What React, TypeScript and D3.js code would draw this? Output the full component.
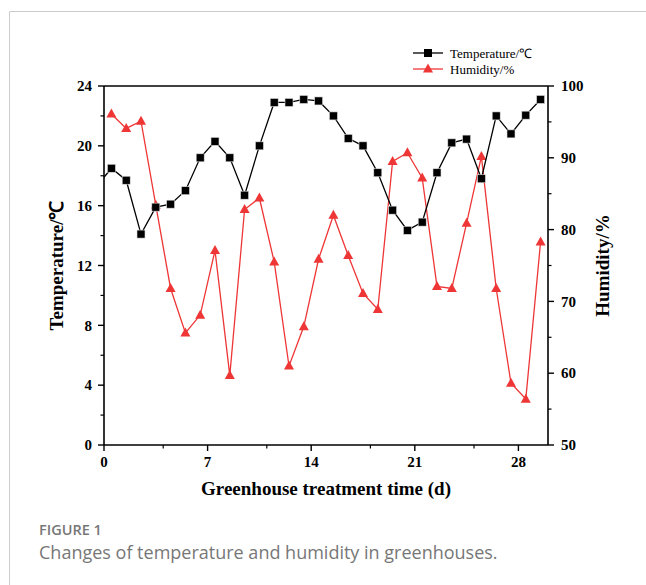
import React from 'react';
import * as d3 from 'd3';

// measurement days (markers sit at the middle of each day)
const days = [0.5, 1.5, 2.5, 3.5, 4.5, 5.5, 6.5, 7.5, 8.5, 9.5, 10.5, 11.5, 12.5, 13.5, 14.5,
  15.5, 16.5, 17.5, 18.5, 19.5, 20.5, 21.5, 22.5, 23.5, 24.5, 25.5, 26.5, 27.5, 28.5, 29.5];

const temperature = [18.5, 17.7, 14.1, 15.9, 16.1, 17.0, 19.2, 20.3, 19.2, 16.7, 20.0, 22.9, 22.9, 23.1, 23.0,
  22.0, 20.5, 20.0, 18.2, 15.7, 14.35, 14.9, 18.2, 20.2, 20.45, 17.8, 22.0, 20.8, 22.05, 23.1];

// the temperature line starts at the axis with no marker
const tempLeadDay = 0;
const tempLeadValue = 17.9;

const humidity = [96.1, 94.1, 95.1, 83.4, 71.8, 65.6, 68.1, 77.1, 59.7, 82.8, 84.4, 75.5, 61.0, 66.5, 75.9,
  82.0, 76.4, 71.1, 68.9, 89.5, 90.7, 87.2, 72.1, 71.8, 80.9, 90.2, 71.8, 58.6, 56.4, 78.3];

const xTicks = [0, 7, 14, 21, 28];
const xMinorTicks = [4, 11, 18, 25];
const leftTicks = [0, 4, 8, 12, 16, 20, 24];
const leftMinorTicks = [2, 6, 10, 14, 18, 22];
const rightTicks = [50, 60, 70, 80, 90, 100];
const rightMinorTicks = [55, 65, 75, 85, 95];

const RED = '#ee3636';
const serif = '"Liberation Serif", "Times New Roman", serif';

export default function App() {
  const left = 104, right = 548, top = 86, bottom = 445;

  const x = d3.scaleLinear().domain([0, 30]).range([left, right]);
  const yL = d3.scaleLinear().domain([0, 24]).range([bottom, top]);
  const yR = d3.scaleLinear().domain([50, 100]).range([bottom, top]);

  const tempPts: [number, number][] = [[tempLeadDay, tempLeadValue], ...days.map((d, i) => [d, temperature[i]] as [number, number])];
  const humPts: [number, number][] = days.map((d, i) => [d, humidity[i]]);

  const tempLine = d3.line<[number, number]>().x(d => x(d[0])).y(d => yL(d[1]));
  const humLine = d3.line<[number, number]>().x(d => x(d[0])).y(d => yR(d[1]));

  const sq = 8;
  const tri = (cx: number, cy: number) => {
    const w = 10, h = 9;
    return `M${cx},${cy - h * 0.6}L${cx + w / 2},${cy + h * 0.4}L${cx - w / 2},${cy + h * 0.4}Z`;
  };

  const tickFont = { fontFamily: serif, fontWeight: 'bold' as const, fontSize: 15 };

  return (
    <svg width={646} height={585} style={{ position: 'absolute', left: 0, top: 0 }}>
      <rect x={0} y={0} width={646} height={585} fill='#fff' />
      {/* page frame */}
      <line x1={9.5} y1={11.5} x2={646} y2={11.5} stroke='#cccccc' strokeWidth={1} />
      <line x1={9.5} y1={11.5} x2={9.5} y2={585} stroke='#cccccc' strokeWidth={1} />

      {/* humidity */}
      <path d={humLine(humPts) || ''} fill='none' stroke={RED} strokeWidth={1.3} />
      {humPts.map((d, i) => (
        <path key={'h' + i} d={tri(x(d[0]), yR(d[1]))} fill={RED} />
      ))}

      {/* temperature */}
      <path d={tempLine(tempPts) || ''} fill='none' stroke='#000' strokeWidth={1.3} />
      {days.map((d, i) => (
        <rect key={'t' + i} x={x(d) - sq / 2} y={yL(temperature[i]) - sq / 2} width={sq} height={sq}
          fill='#000' stroke='#ddd' strokeWidth={0.6} />
      ))}

      {/* frame */}
      <line x1={left} y1={top} x2={right} y2={top} stroke='#000' strokeWidth={1.6} />
      <line x1={left} y1={bottom} x2={right} y2={bottom} stroke='#000' strokeWidth={1.6} />
      <line x1={left} y1={top} x2={left} y2={bottom} stroke='#000' strokeWidth={1.6} />
      <line x1={right} y1={top} x2={right} y2={bottom} stroke='#000' strokeWidth={1.6} />

      {/* x axis */}
      {xTicks.map(t => (
        <g key={'x' + t}>
          <line x1={x(t)} x2={x(t)} y1={bottom} y2={bottom + 6} stroke='#000' strokeWidth={1.4} />
          <text x={x(t)} y={467} textAnchor='middle' {...tickFont}>{t}</text>
        </g>
      ))}
      {xMinorTicks.map(t => (
        <line key={'xm' + t} x1={x(t)} x2={x(t)} y1={bottom} y2={bottom + 3.5} stroke='#000' strokeWidth={1.2} />
      ))}
      <text x={(left + right) / 2} y={495} textAnchor='middle' fontFamily={serif} fontWeight='bold' fontSize={19}>
        Greenhouse treatment time (d)
      </text>

      {/* left axis */}
      {leftTicks.map(t => (
        <g key={'l' + t}>
          <line x1={left - 6} x2={left} y1={yL(t)} y2={yL(t)} stroke='#000' strokeWidth={1.4} />
          <text x={92} y={yL(t)} dy='0.35em' textAnchor='end' {...tickFont}>{t}</text>
        </g>
      ))}
      {leftMinorTicks.map(t => (
        <line key={'lm' + t} x1={left - 3.5} x2={left} y1={yL(t)} y2={yL(t)} stroke='#000' strokeWidth={1.2} />
      ))}
      <text transform={`translate(63,${(top + bottom) / 2}) rotate(-90)`} textAnchor='middle'
        fontFamily={serif} fontWeight='bold' fontSize={19}>Temperature/℃</text>

      {/* right axis */}
      {rightTicks.map(t => (
        <g key={'r' + t}>
          <line x1={right} x2={right + 6} y1={yR(t)} y2={yR(t)} stroke='#000' strokeWidth={1.4} />
          <text x={561} y={yR(t)} dy='0.35em' textAnchor='start' {...tickFont}>{t}</text>
        </g>
      ))}
      {rightMinorTicks.map(t => (
        <line key={'rm' + t} x1={right} x2={right + 3.5} y1={yR(t)} y2={yR(t)} stroke='#000' strokeWidth={1.2} />
      ))}
      <text transform={`translate(609,${(top + bottom) / 2}) rotate(-90)`} textAnchor='middle'
        fontFamily={serif} fontWeight='bold' fontSize={19}>Humidity/%</text>

      {/* legend */}
      <g>
        <line x1={413} x2={443} y1={53} y2={53} stroke='#000' strokeWidth={1.3} />
        <rect x={428 - sq / 2} y={53 - sq / 2} width={sq} height={sq} fill='#000' />
        <text x={450} y={53} dy='0.35em' fontFamily={serif} fontSize={13}>Temperature/℃</text>
        <line x1={413} x2={443} y1={69} y2={69} stroke={RED} strokeWidth={1.3} />
        <path d={tri(428, 69)} fill={RED} />
        <text x={450} y={69} dy='0.35em' fontFamily={serif} fontSize={13}>Humidity/%</text>
      </g>

      {/* caption */}
      <text x={39} y={535} fontFamily='"Open Sans", sans-serif' fontWeight={600} fontSize={14.5} fill='#777'>FIGURE 1</text>
      <text x={39} y={559} fontFamily='"Open Sans", sans-serif' fontWeight={400} fontSize={18} fill='#777'>
        Changes of temperature and humidity in greenhouses.
      </text>
    </svg>
  );
}
